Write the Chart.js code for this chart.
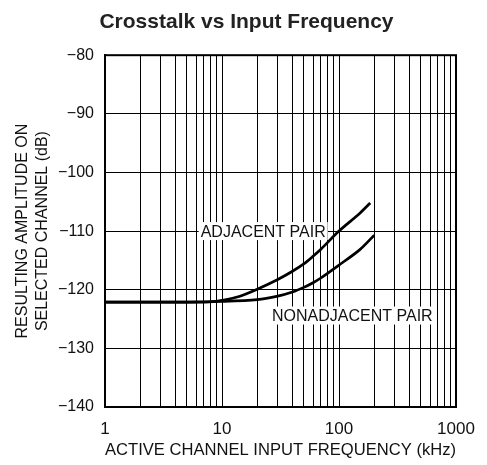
<!DOCTYPE html>
<html>
<head>
<meta charset="utf-8">
<script src="https://cdn.jsdelivr.net/npm/chart.js@4.4.1/dist/chart.umd.min.js"></script>
<style>
  html, body { margin: 0; padding: 0; background: #fff; }
  #wrap { width: 487px; height: 465px; }
</style>
</head>
<body>
<div id="wrap"><canvas id="myChart"></canvas></div>
<script>
// data
const freqAdj = [1, 5, 8, 10, 14, 20, 30, 40, 50, 60, 70, 100, 150, 185];
const adjacent = [-122.1, -122.1, -122.05, -121.8, -121.15, -119.9, -118.25, -116.85, -115.6, -114.3, -113.1, -110, -107.0, -105.2];
const freqNonAdj = [1, 5, 10, 20, 30, 40, 50, 60, 70, 100, 150, 200];
const nonAdjacent = [-122.1, -122.1, -122.0, -121.7, -121.1, -120.4, -119.6, -118.8, -118.0, -115.8, -113.2, -110.7];
const xTicks = [1, 2, 3, 4, 5, 6, 7, 8, 9, 10, 20, 30, 40, 50, 60, 70, 80, 90, 100, 200, 300, 400, 500, 600, 700, 800, 900, 1000];
const xLabels = [1, 10, 100, 1000];
const yTicks = [-140, -130, -120, -110, -100, -90, -80];
const labels = [
  { text: 'ADJACENT PAIR', x: 22.5, y: -110 },
  { text: 'NONADJACENT PAIR', x: 130, y: -124.4 }
];

const FONT = '"Liberation Sans", Arial, Helvetica, sans-serif';

// frame + curve labels
const extras = {
  id: 'extras',
  afterDraw(chart) {
    const c = chart.ctx, a = chart.chartArea;
    c.save();
    c.strokeStyle = '#000';
    c.lineWidth = 2;
    c.strokeRect(a.left, a.top, a.right - a.left, a.bottom - a.top);
    c.font = '16px ' + FONT;
    c.textAlign = 'center';
    c.textBaseline = 'middle';
    labels.forEach(l => {
      const px = chart.scales.x.getPixelForValue(l.x);
      const py = chart.scales.y.getPixelForValue(l.y);
      const w = c.measureText(l.text).width;
      c.fillStyle = '#fff';
      c.fillRect(px - w / 2 - 2, py - 9, w + 4, 18);
      c.fillStyle = '#111';
      c.fillText(l.text, px, py + 1);
    });
    c.restore();
  }
};

const ctx = document.getElementById('myChart');

new Chart(ctx, {
  type: 'line',
  data: {
    datasets: [{
      label: 'Adjacent pair',
      data: freqAdj.map((f, i) => ({ x: f, y: adjacent[i] })),
      borderColor: '#000',
      borderWidth: 2.7,
      pointRadius: 0,
      tension: 0.3
    }, {
      label: 'Nonadjacent pair',
      data: freqNonAdj.map((f, i) => ({ x: f, y: nonAdjacent[i] })),
      borderColor: '#000',
      borderWidth: 2.7,
      pointRadius: 0,
      tension: 0.3
    }]
  },
  plugins: [extras],
  options: {
    responsive: true,
    maintainAspectRatio: false,
    animation: false,
    layout: { padding: { left: 37, right: 31, top: 0, bottom: 0 } },
    plugins: {
      legend: { display: false },
      tooltip: { enabled: false },
      title: {
        display: true,
        text: 'Crosstalk vs Input Frequency',
        color: '#222',
        font: { family: FONT, size: 21, weight: 'bold' },
        padding: { top: 10, bottom: 20 }
      }
    },
    scales: {
      x: {
        type: 'logarithmic',
        min: 1,
        max: 1000,
        afterBuildTicks: s => { s.ticks = xTicks.map(v => ({ value: v })); },
        afterFit: s => { s.height = 58; },
        ticks: {
          autoSkip: false,
          maxRotation: 0,
          color: '#111',
          font: { family: FONT, size: 17 },
          padding: 12,
          callback: v => xLabels.includes(v) ? String(v) : ''
        },
        grid: { color: '#000', lineWidth: 1, drawTicks: false },
        border: { color: '#000', width: 2 },
        title: {
          display: true,
          text: 'ACTIVE CHANNEL INPUT FREQUENCY (kHz)',
          color: '#111',
          font: { family: FONT, size: 17 },
          padding: { top: 2, bottom: 4 }
        }
      },
      y: {
        min: -140,
        max: -80,
        afterBuildTicks: s => { s.ticks = yTicks.map(v => ({ value: v })); },
        afterFit: s => { s.width = 68; },
        ticks: {
          color: '#111',
          font: { family: FONT, size: 16 },
          padding: 11,
          callback: v => String(v).replace('-', '\u2212')
        },
        grid: { color: '#000', lineWidth: 1, drawTicks: false },
        border: { color: '#000', width: 2 },
        title: {
          display: true,
          text: ['RESULTING AMPLITUDE ON', 'SELECTED CHANNEL (dB)'],
          color: '#111',
          font: { family: FONT, size: 16, lineHeight: 1.25 },
          padding: { top: -24.5, bottom: 0 }
        }
      }
    }
  }
});
</script>
</body>
</html>
